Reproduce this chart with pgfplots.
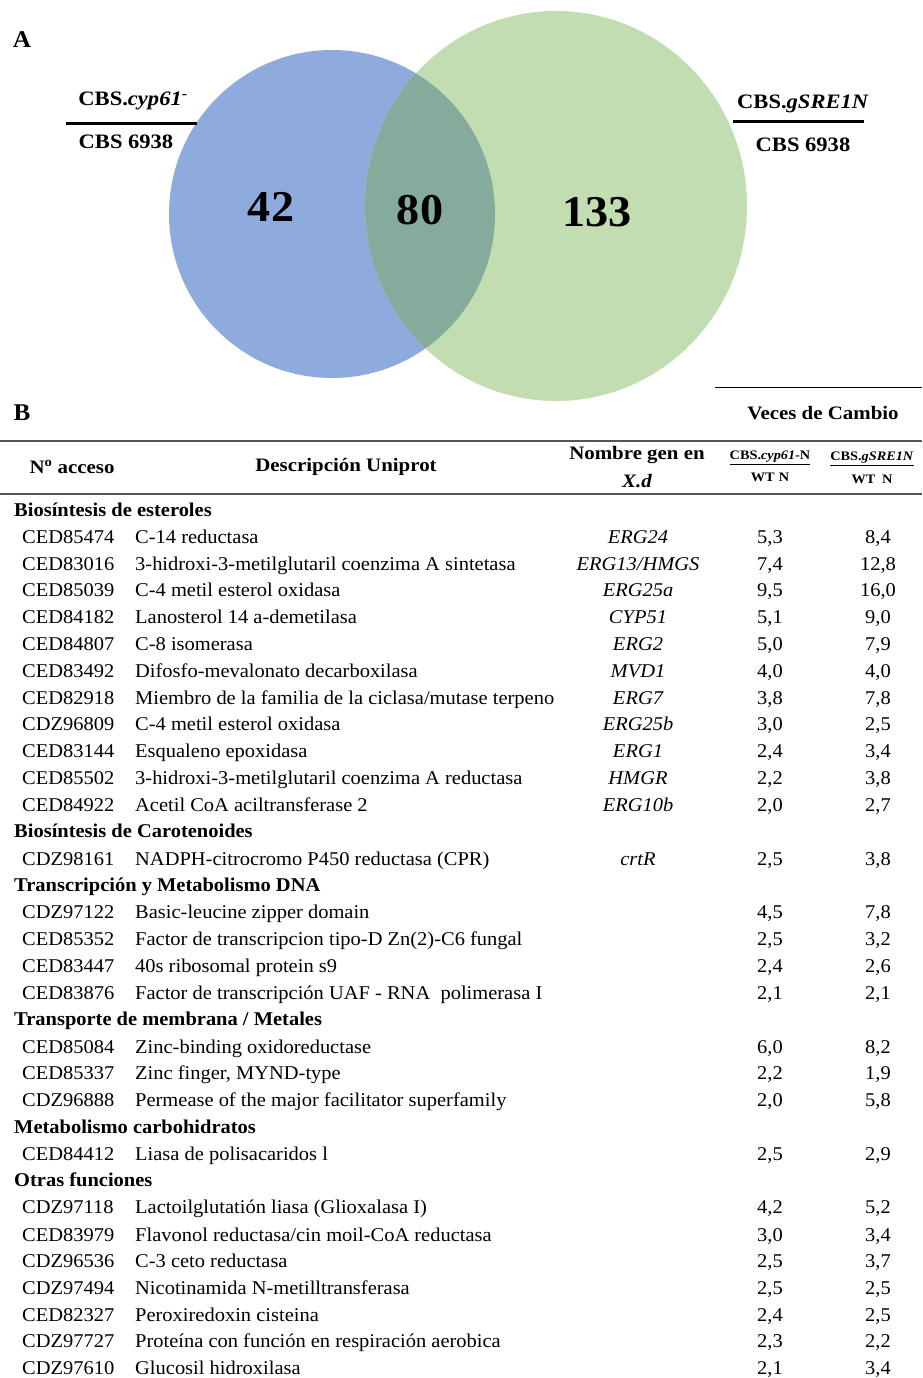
\documentclass[border=0pt]{standalone}
\usepackage{fontspec}
\setmainfont{Liberation Serif}[FakeStretch=1.05]
\newfontfamily\hdrfont{Liberation Serif}[FakeStretch=1.1]
\usepackage{pgfplots}
\usepackage{pgfplotstable}
\pgfplotsset{compat=1.18}
\definecolor{vblue}{HTML}{8FAADC}
\definecolor{vgreen}{HTML}{C2DDB2}
\definecolor{vmix}{HTML}{84AB9B}
\definecolor{rulec}{HTML}{555555}
\newcommand\body{\fontsize{19.5}{21}\selectfont}
\newcommand\cat{\fontsize{19.5}{21}\selectfont\bfseries}
\newcommand\hdr{\hdrfont\fontsize{19}{20}\selectfont\bfseries}
\newcommand\lbl{\hdrfont\fontsize{20.5}{21}\selectfont\bfseries}

\pgfplotstableread{
y v1 v2
537 5.3 8.4
564 7.4 12.8
590 9.5 16.0
617 5.1 9.0
644 5.0 7.9
671 4.0 4.0
698 3.8 7.8
724 3.0 2.5
751 2.4 3.4
778 2.2 3.8
805 2.0 2.7
859 2.5 3.8
912 4.5 7.8
939 2.5 3.2
966 2.4 2.6
993 2.1 2.1
1047 6.0 8.2
1073 2.2 1.9
1100 2.0 5.8
1154 2.5 2.9
1207 4.2 5.2
1235 3.0 3.4
1261 2.5 3.7
1288 2.5 2.5
1315 2.4 2.5
1341 2.3 2.2
1368 2.1 3.4
}\vals

\newcommand\row[4]{%
  \node[txt,anchor=west] at (axis cs:22,#1) {#2};
  \node[txt,anchor=west] at (axis cs:135,#1) {#3};
  \node[txt,anchor=center] at (axis cs:638,#1) {\itshape #4};
}
\newcommand\category[2]{%
  \node[txt,anchor=west,font=\cat] at (axis cs:14,#1) {#2};
}

\begin{document}
\begin{tikzpicture}[txt/.style={inner sep=0pt,text height=13pt,text depth=0pt,font=\body}]
\begin{axis}[
  width=922pt, height=1378pt, scale only axis,
  xmin=0, xmax=922, ymin=0, ymax=1378, y dir=reverse,
  hide axis, clip=false,
  /pgf/number format/assume math mode=true,
]
% Venn diagram
\fill[vblue] (axis cs:332,214) ellipse [x radius=163pt, y radius=164pt];
\fill[vgreen] (axis cs:556,206) ellipse [x radius=191pt, y radius=195pt];
\begin{scope}
  \clip (axis cs:332,214) ellipse [x radius=163pt, y radius=164pt];
  \fill[vmix] (axis cs:556,206) ellipse [x radius=191pt, y radius=195pt];
\end{scope}
\addplot[draw=none, mark=none, point meta=explicit symbolic,
  nodes near coords,
  every node near coord/.append style={anchor=center, font=\fontsize{44}{44}\selectfont\bfseries, inner sep=0pt}]
  coordinates {(271,207)[42] (420,210)[80] (597,212)[133]};

\node[font=\fontsize{24}{24}\selectfont\bfseries] at (axis cs:22,40) {A};
\node[font=\lbl] at (axis cs:133,101) {CBS.\textit{cyp61}\textsuperscript{-}};
\draw[line width=3pt] (axis cs:66,124) -- (axis cs:197,124);
\node[font=\lbl] at (axis cs:126,142) {CBS 6938};
\node[font=\lbl] at (axis cs:803,104) {CBS.\textit{gSRE1N}};
\draw[line width=3pt] (axis cs:733,122) -- (axis cs:864,122);
\node[font=\lbl] at (axis cs:803,145) {CBS 6938};

% Table header
\node[font=\fontsize{24}{24}\selectfont\bfseries] at (axis cs:22,413) {B};
\draw[line width=1pt] (axis cs:715,387) -- (axis cs:922,387);
\node[font=\hdr] at (axis cs:823,413) {Veces de Cambio};
\draw[line width=2pt, rulec] (axis cs:0,441) -- (axis cs:922,441);
\node[font=\hdr] at (axis cs:72,467) {N\textsuperscript{o} acceso};
\node[font=\hdr] at (axis cs:346,467) {Descripción Uniprot};
\node[font=\hdr] at (axis cs:637,455) {Nombre gen en};
\node[font=\hdr\itshape] at (axis cs:637,481) {X.d};
\node[font=\hdrfont\fontsize{13}{14}\selectfont\bfseries] at (axis cs:770,458) {\underline{CBS.\textit{cyp61}-N}};
\node[font=\hdrfont\fontsize{13}{14}\selectfont\bfseries] at (axis cs:770,477) {WT\,\,N};
\node[font=\hdrfont\fontsize{13}{14}\selectfont\bfseries] at (axis cs:872,459) {\underline{CBS.\textit{gSRE1N}}};
\node[font=\hdrfont\fontsize{13}{14}\selectfont\bfseries] at (axis cs:872,479) {WT\,\,\,N};
\draw[line width=2pt, rulec] (axis cs:0,494) -- (axis cs:922,494);

% Table body
\category{510}{Biosíntesis de esteroles}
\row{537}{CED85474}{C-14 reductasa}{ERG24}
\row{564}{CED83016}{3-hidroxi-3-metilglutaril coenzima A sintetasa}{ERG13/HMGS}
\row{590}{CED85039}{C-4 metil esterol oxidasa}{ERG25a}
\row{617}{CED84182}{Lanosterol 14 a-demetilasa}{CYP51}
\row{644}{CED84807}{C-8 isomerasa}{ERG2}
\row{671}{CED83492}{Difosfo-mevalonato decarboxilasa}{MVD1}
\row{698}{CED82918}{Miembro de la familia de la ciclasa/mutase terpeno}{ERG7}
\row{724}{CDZ96809}{C-4 metil esterol oxidasa}{ERG25b}
\row{751}{CED83144}{Esqualeno epoxidasa}{ERG1}
\row{778}{CED85502}{3-hidroxi-3-metilglutaril coenzima A reductasa}{HMGR}
\row{805}{CED84922}{Acetil CoA aciltransferase 2}{ERG10b}
\category{831}{Biosíntesis de Carotenoides}
\row{859}{CDZ98161}{NADPH-citrocromo P450 reductasa (CPR)}{crtR}
\category{885}{Transcripción y Metabolismo DNA}
\row{912}{CDZ97122}{Basic-leucine zipper domain}{}
\row{939}{CED85352}{Factor de transcripcion tipo-D Zn(2)-C6 fungal}{}
\row{966}{CED83447}{40s ribosomal protein s9}{}
\row{993}{CED83876}{Factor de transcripción UAF - RNA\ \ polimerasa I}{}
\category{1019}{Transporte de membrana / Metales}
\row{1047}{CED85084}{Zinc-binding oxidoreductase}{}
\row{1073}{CED85337}{Zinc finger, MYND-type}{}
\row{1100}{CDZ96888}{Permease of the major facilitator superfamily}{}
\category{1127}{Metabolismo carbohidratos}
\row{1154}{CED84412}{Liasa de polisacaridos l}{}
\category{1180}{Otras funciones}
\row{1207}{CDZ97118}{Lactoilglutatión liasa (Glioxalasa I)}{}
\row{1235}{CED83979}{Flavonol reductasa/cin moil-CoA reductasa}{}
\row{1261}{CDZ96536}{C-3 ceto reductasa}{}
\row{1288}{CDZ97494}{Nicotinamida N-metilltransferasa}{}
\row{1315}{CED82327}{Peroxiredoxin cisteina}{}
\row{1341}{CDZ97727}{Proteína con función en respiración aerobica}{}
\row{1368}{CDZ97610}{Glucosil hidroxilasa}{}

\addplot[draw=none, mark=none, point meta=explicit,
  nodes near coords={\pgfmathprintnumber[fixed,fixed zerofill,precision=1,use comma]{\pgfplotspointmeta}},
  every node near coord/.append style={anchor=center, txt}]
  table[x expr=770, y=y, meta=v1] {\vals};
\addplot[draw=none, mark=none, point meta=explicit,
  nodes near coords={\pgfmathprintnumber[fixed,fixed zerofill,precision=1,use comma]{\pgfplotspointmeta}},
  every node near coord/.append style={anchor=center, txt}]
  table[x expr=878, y=y, meta=v2] {\vals};
\end{axis}
\pgfresetboundingbox
\useasboundingbox (current axis.south west) rectangle (current axis.north east);
\end{tikzpicture}
\end{document}
